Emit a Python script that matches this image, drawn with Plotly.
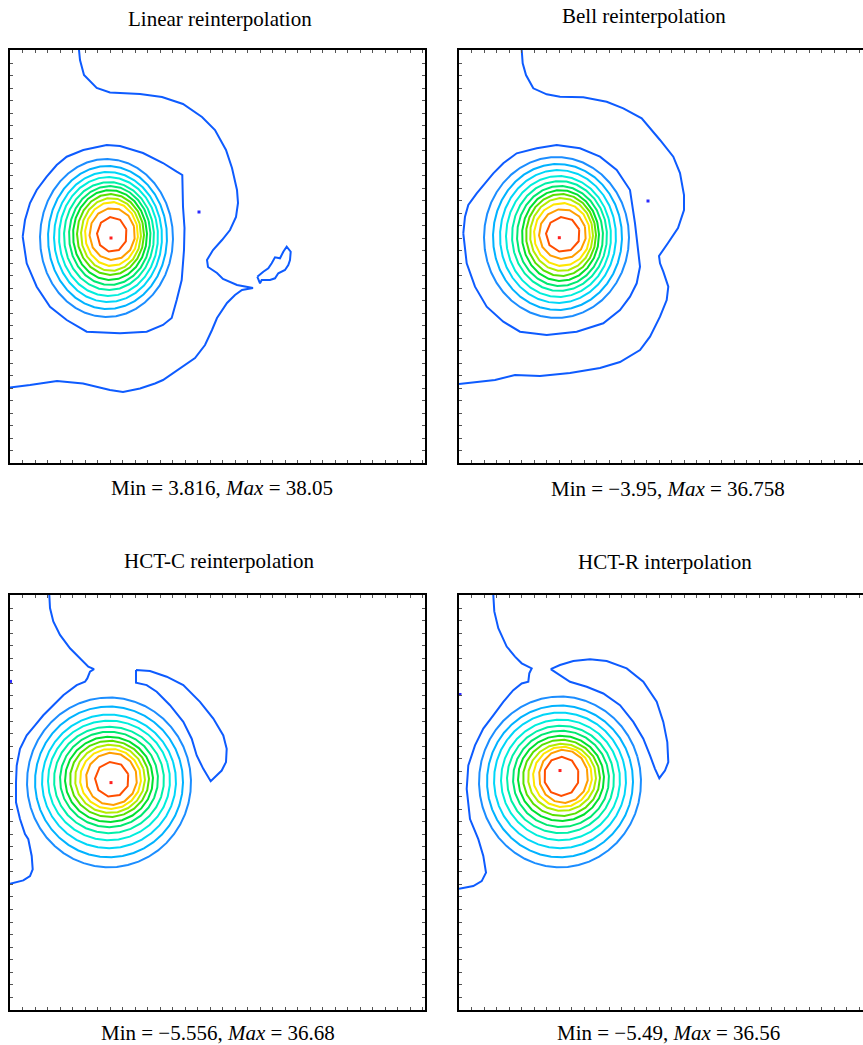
import numpy as np
import plotly.graph_objects as go

# ---------------- data ----------------
PANEL_TITLES = ["Linear reinterpolation", "Bell reinterpolation",
                "HCT-C reinterpolation", "HCT-R interpolation"]
PANEL_MIN = ["3.816", "\u22123.95", "\u22125.556", "\u22125.49"]
PANEL_MAX = ["38.05", "36.758", "36.68", "36.56"]

# jet-like contour level colours (lowest drawn level -> highest)
OUTER_COLOR = "#0d5bff"
RING_COLORS = ["#1b8dff", "#00b2ff", "#00d6f8", "#00eedc", "#00f0a8", "#00e870",
               "#00e030", "#58e000", "#b4ec00", "#ffe600", "#ff9e00", "#ff4e00"]
PEAK_COLOR = "#ff2020"
LOW_COLOR = "#2a2aff"

# closed near-circular contours around the bump: extents per level
linear_ring_left = [3.0, 3.8, 4.4, 4.9, 5.4, 5.9, 6.3, 6.7, 7.1, 7.5, 7.95, 8.7]
linear_ring_right = [16.3, 15.7, 15.2, 14.8, 14.4, 14.05, 13.7, 13.4, 13.1, 12.8, 12.5, 11.7]
linear_ring_top = [30.4, 29.7, 29.1, 28.6, 28.1, 27.7, 27.3, 26.9, 26.5, 26.1, 25.5, 24.6]
linear_ring_bottom = [14.6, 15.4, 16.1, 16.7, 17.3, 17.8, 18.3, 18.8, 19.2, 19.7, 20.3, 21.1]

bell_ring_left = [2.5, 3.4, 4.1, 4.7, 5.3, 5.8, 6.3, 6.7, 7.1, 7.5, 8.0, 8.7]
bell_ring_right = [17.0, 16.3, 15.7, 15.2, 14.8, 14.4, 14.0, 13.7, 13.4, 13.1, 12.7, 12.1]
bell_ring_top = [30.6, 29.9, 29.3, 28.7, 28.2, 27.7, 27.3, 26.9, 26.5, 26.0, 25.4, 24.6]
bell_ring_bottom = [14.5, 15.3, 16.0, 16.6, 17.2, 17.7, 18.2, 18.7, 19.2, 19.7, 20.4, 21.1]

hctc_ring_left = [1.7, 2.5, 3.2, 3.8, 4.4, 5.0, 5.5, 6.0, 6.5, 7.0, 7.6, 8.5]
hctc_ring_right = [18.1, 17.3, 16.6, 16.0, 15.4, 14.8, 14.3, 13.9, 13.5, 13.1, 12.7, 11.9]
hctc_ring_top = [31.1, 30.2, 29.4, 28.8, 28.2, 27.7, 27.2, 26.8, 26.4, 26.0, 25.6, 24.7]
hctc_ring_bottom = [14.2, 15.2, 16.1, 16.9, 17.6, 18.2, 18.7, 19.2, 19.6, 20.0, 20.4, 21.2]

hctr_ring_left = [2.0, 2.8, 3.5, 4.2, 4.8, 5.4, 5.9, 6.4, 6.9, 7.4, 8.0, 8.5]
hctr_ring_right = [18.2, 17.4, 16.7, 16.1, 15.5, 15.0, 14.5, 14.1, 13.7, 13.3, 12.9, 12.0]
hctr_ring_top = [31.2, 30.3, 29.6, 28.9, 28.3, 27.8, 27.3, 26.9, 26.5, 26.2, 25.9, 25.2]
hctr_ring_bottom = [14.2, 15.2, 16.1, 16.9, 17.6, 18.2, 18.8, 19.3, 19.8, 20.2, 20.6, 21.3]

# peak (maximum) locations and isolated low-level points
PEAK_X = [10.1, 10.03, 10.1, 10.1]
PEAK_Y = [22.5, 22.53, 22.63, 23.83]
LOW_X = [18.9, 18.9, 0.05, 0.1]
LOW_Y = [25.1, 26.2, 32.7, 31.4]

# lowest-level (outer) irregular contours
linear_ring0_x = [1.27, 1.5, 2.0, 2.67, 3.67, 4.67, 5.67, 7.33, 9.67, 11.0, 13.3, 15.3, 16.67, 17.23,
                  17.3, 17.45, 17.4, 17.17, 16.67, 16.17, 15.3, 13.67, 11.0, 7.67, 5.67, 4.0, 2.67, 1.67]
linear_ring0_y = [22.63, 24.3, 26.0, 27.3, 28.63, 29.8, 30.63, 31.3, 31.8, 31.7, 31.0, 30.0, 29.13, 28.8,
                  25.63, 23.5, 21.3, 18.3, 16.3, 14.5, 13.8, 13.13, 12.97, 13.13, 14.3, 15.63, 17.63, 19.97]
linear_arc_x = [6.9, 7.0, 7.4, 8.67, 10.0, 13.0, 15.2, 17.3, 19.2, 20.5, 21.6, 22.2, 22.7, 22.8, 22.6,
                22.0, 21.2, 20.3, 19.7, 19.8, 20.7, 21.3, 22.7, 24.3, 23.2, 22.5, 21.7, 21.2, 20.7,
                20.2, 19.5, 18.5, 17.0, 15.3, 14.5, 13.0, 11.3, 10.0, 7.3, 4.7, 2.0, 0.0]
linear_arc_y = [41.3, 40.3, 38.8, 37.5, 37.05, 36.9, 36.6, 35.9, 34.6, 33.3, 31.3, 29.5, 27.3, 26.0, 24.6,
                23.3, 22.3, 21.3, 20.3, 19.6, 19.0, 18.4, 17.8, 17.5, 17.3, 16.8, 16.0, 15.3, 14.5,
                13.3, 11.8, 10.5, 9.5, 8.3, 7.95, 7.45, 7.1, 7.3, 7.95, 8.2, 7.8, 7.55]
linear_loop_x = [24.73, 25.0, 25.17, 26.0, 26.5, 26.83, 27.5, 27.83, 28.0, 28.07, 27.67, 27.33, 27.0,
                 26.5, 26.17, 25.83, 25.33, 24.93]
linear_loop_y = [18.63, 17.97, 18.3, 18.3, 18.47, 18.97, 19.3, 19.8, 20.3, 21.13, 21.63, 21.13, 20.47,
                 20.57, 19.97, 19.47, 19.13, 18.8]

bell_ring0_x = [0.43, 0.6, 0.93, 1.77, 2.6, 3.43, 4.43, 5.77, 7.77, 9.77, 12.1, 14.1, 15.77, 17.1,
                17.6, 17.93, 18.1, 17.77, 17.1, 16.1, 14.43, 11.77, 8.77, 6.1, 4.43, 2.77, 1.6, 0.77]
bell_ring0_y = [22.97, 24.63, 25.8, 26.97, 27.97, 28.97, 29.97, 30.97, 31.47, 31.8, 31.47, 30.63, 29.3, 27.3,
                23.97, 21.3, 19.63, 17.97, 16.63, 15.3, 13.97, 13.13, 12.8, 13.13, 14.13, 15.63, 17.63, 19.97]
bell_arc_x = [6.27, 6.37, 6.7, 7.43, 8.77, 10.1, 12.43, 14.77, 16.43, 18.27, 20.1, 21.43, 22.1, 22.5,
              22.5, 21.9, 20.9, 20.0, 20.1, 20.43, 20.93, 20.77, 20.1, 19.1, 18.1, 16.1, 14.1, 11.1,
              8.1, 5.6, 3.6, 1.1, 0.0]
bell_arc_y = [41.3, 39.97, 38.8, 37.47, 36.87, 36.63, 36.57, 36.13, 35.47, 34.47, 32.3, 30.63, 29.0, 26.8,
              25.3, 23.5, 22.0, 20.7, 19.97, 19.13, 17.63, 16.3, 14.63, 12.63, 11.3, 10.1, 9.5, 9.0,
              8.7, 8.8, 8.3, 8.0, 7.9]

hctc_arc_x = [3.93, 4.0, 4.33, 5.0, 6.0, 7.0, 7.83, 8.4, 8.0, 7.73, 7.5, 6.67, 6.0, 5.33, 4.33, 3.33,
              2.5, 1.67, 1.0, 0.67, 0.6, 0.6, 1.0, 1.5, 1.83, 2.17, 2.27, 2.0, 1.33, 0.0]
hctc_arc_y = [41.3, 40.0, 38.67, 37.33, 36.0, 35.0, 34.17, 33.93, 33.67, 33.0, 32.67, 32.33, 31.83, 31.33,
              30.33, 29.33, 28.33, 27.33, 26.0, 24.33, 22.67, 20.67, 19.0, 17.5, 17.0, 15.33, 14.0, 13.33,
              12.9, 12.57]
hctc_lobe_x = [12.6, 14.0, 15.67, 17.33, 19.0, 20.33, 21.33, 21.67, 21.6, 21.17, 20.07, 19.33, 18.67,
               18.17, 17.33, 16.0, 14.67, 13.67, 12.6]
hctc_lobe_y = [33.83, 33.73, 33.17, 32.33, 30.67, 29.0, 27.33, 26.0, 24.67, 23.83, 22.77, 24.0, 25.33,
               27.0, 28.67, 30.33, 31.67, 32.33, 32.57]

hctr_arc_x = [3.43, 3.53, 3.93, 4.77, 5.6, 6.27, 7.27, 7.03, 6.93, 6.27, 5.43, 4.43, 3.43, 2.43, 1.6,
              0.93, 0.77, 1.1, 1.93, 2.43, 2.7, 2.27, 1.43, 0.0]
hctr_arc_y = [41.3, 39.67, 38.0, 36.17, 35.17, 34.5, 34.0, 33.5, 32.67, 32.5, 31.83, 30.67, 29.33, 28.0,
              26.33, 24.33, 22.0, 19.0, 17.0, 15.33, 13.67, 12.83, 12.33, 12.07]
hctr_lobe_x = [9.17, 10.1, 11.43, 13.1, 14.77, 16.77, 18.43, 19.77, 20.43, 20.83, 20.93, 20.6, 20.03,
               19.6, 19.1, 18.43, 17.43, 16.1, 14.43, 12.77, 11.1, 10.1]
hctr_lobe_y = [33.93, 34.33, 34.73, 34.9, 34.73, 34.0, 32.67, 30.67, 28.67, 26.67, 24.67, 23.83, 23.07,
               24.0, 25.33, 27.0, 28.67, 30.33, 31.5, 32.17, 32.67, 33.33]

RINGS = [
    (linear_ring_left, linear_ring_right, linear_ring_top, linear_ring_bottom),
    (bell_ring_left, bell_ring_right, bell_ring_top, bell_ring_bottom),
    (hctc_ring_left, hctc_ring_right, hctc_ring_top, hctc_ring_bottom),
    (hctr_ring_left, hctr_ring_right, hctr_ring_top, hctr_ring_bottom),
]
# (x, y, closed)
OUTER_PATHS = [
    [(linear_ring0_x, linear_ring0_y, True), (linear_arc_x, linear_arc_y, False),
     (linear_loop_x, linear_loop_y, True)],
    [(bell_ring0_x, bell_ring0_y, True), (bell_arc_x, bell_arc_y, False)],
    [(hctc_arc_x, hctc_arc_y, False), (hctc_lobe_x, hctc_lobe_y, True)],
    [(hctr_arc_x, hctr_arc_y, False), (hctr_lobe_x, hctr_lobe_y, True)],
]

# ---------------- layout ----------------
W, H = 863, 1045
FONT = "Liberation Serif, Times New Roman, serif"
X_DOMAINS = [[10 / W, 425 / W], [459 / W, 1.0], [10 / W, 425 / W], [459 / W, 1.0]]
Y_DOMAINS = [[1 - 463 / H, 1 - 50 / H], [1 - 463 / H, 1 - 50 / H],
             [1 - 1010 / H, 1 - 595 / H], [1 - 1010 / H, 1 - 595 / H]]
X_RANGES = [[0, 41.5], [0, 40.4], [0, 41.5], [0, 40.4]]
Y_RANGE = [0, 41.3]

fig = go.Figure()

for p in range(4):
    xa = "x" if p == 0 else f"x{p + 1}"
    ya = "y" if p == 0 else f"y{p + 1}"
    lefts, rights, tops, bottoms = RINGS[p]
    for k in range(len(lefts)):
        cx = (lefts[k] + rights[k]) / 2
        cy = (tops[k] + bottoms[k]) / 2
        rx = (rights[k] - lefts[k]) / 2
        ry = (tops[k] - bottoms[k]) / 2
        n = max(9, int(round((rx + ry) / 2 * 5.5)))
        th = np.linspace(0, 2 * np.pi, n + 1) + 0.3
        fig.add_trace(go.Scatter(x=cx + rx * np.cos(th), y=cy + ry * np.sin(th), mode="lines",
                                 line=dict(color=RING_COLORS[k], width=2),
                                 xaxis=xa, yaxis=ya, hoverinfo="skip", showlegend=False))
    for xs, ys, closed in OUTER_PATHS[p]:
        xs = list(xs) + ([xs[0]] if closed else [])
        ys = list(ys) + ([ys[0]] if closed else [])
        fig.add_trace(go.Scatter(x=xs, y=ys, mode="lines",
                                 line=dict(color=OUTER_COLOR, width=2),
                                 xaxis=xa, yaxis=ya, hoverinfo="skip", showlegend=False))
    fig.add_trace(go.Scatter(x=[PEAK_X[p]], y=[PEAK_Y[p]], mode="markers",
                             marker=dict(color=PEAK_COLOR, size=3, symbol="square"),
                             xaxis=xa, yaxis=ya, hoverinfo="skip", showlegend=False))
    fig.add_trace(go.Scatter(x=[LOW_X[p]], y=[LOW_Y[p]], mode="markers",
                             marker=dict(color=LOW_COLOR, size=3, symbol="square"),
                             xaxis=xa, yaxis=ya, hoverinfo="skip", showlegend=False,
                             cliponaxis=False))

    common = dict(showgrid=False, zeroline=False, showticklabels=False, showline=True,
                  linecolor="black", linewidth=2, ticks="inside", ticklen=3, tickwidth=1,
                  tickcolor="#555")
    xkey = "xaxis" if p == 0 else f"xaxis{p + 1}"
    ykey = "yaxis" if p == 0 else f"yaxis{p + 1}"
    fig.layout[xkey] = dict(domain=X_DOMAINS[p], range=X_RANGES[p], anchor=ya, tick0=0, dtick=1.25,
                            mirror="allticks", **common)
    fig.layout[ykey] = dict(domain=Y_DOMAINS[p], range=Y_RANGE, anchor=xa, tick0=0, dtick=1.25,
                            mirror=("allticks" if p % 2 == 0 else False), **common)

# titles and min/max captions
TITLE_POS = [(219.7, 19), (644, 16), (219, 561), (664.5, 562)]
CAPTION_POS = [(221.5, 488), (668, 489), (218, 1033), (668, 1033)]
for p in range(4):
    tx, ty = TITLE_POS[p]
    fig.add_annotation(text=PANEL_TITLES[p], x=tx / W, y=1 - ty / H, xref="paper", yref="paper",
                       xanchor="center", yanchor="middle", showarrow=False,
                       font=dict(family=FONT, size=21, color="black"))
    cx_, cy_ = CAPTION_POS[p]
    fig.add_annotation(text=f"Min = {PANEL_MIN[p]}, <i>Max</i> = {PANEL_MAX[p]}",
                       x=cx_ / W, y=1 - cy_ / H, xref="paper", yref="paper",
                       xanchor="center", yanchor="middle", showarrow=False,
                       font=dict(family=FONT, size=21, color="black"))

fig.update_layout(width=W, height=H, margin=dict(l=0, r=0, t=0, b=0),
                  paper_bgcolor="white", plot_bgcolor="white", showlegend=False)

fig.write_html("out.html", config={"displayModeBar": False},
               post_script="document.body.style.margin='0';document.body.style.overflow='hidden';")
